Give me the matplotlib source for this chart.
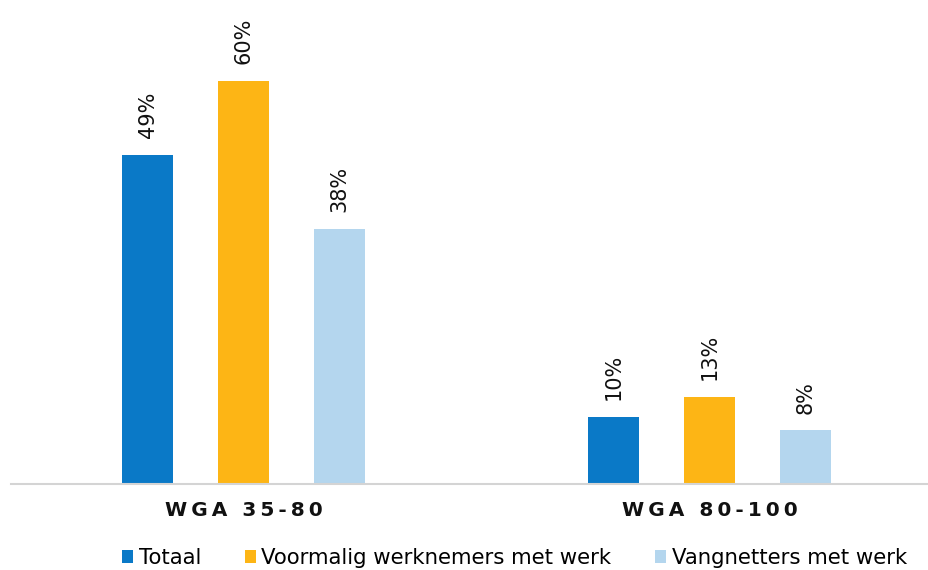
import matplotlib
matplotlib.use("Agg")
import matplotlib.pyplot as plt
import numpy as np

categories = ["WGA 35-80", "WGA 80-100"]
series_names = ["Totaal", "Voormalig werknemers met werk", "Vangnetters met werk"]
totaal = [49, 10]
voormalig = [60, 13]
vangnetters = [38, 8]
colors = ["#0a79c7", "#fdb515", "#b4d6ee"]

W, H = 929, 570
fig = plt.figure(figsize=(W / 100, H / 100), dpi=100)
ax = fig.add_axes([10.5 / W, 86 / H, 932 / W, 470 / H])

x = np.arange(len(categories))
offsets = [-0.206, 0.0, 0.206]
width = 0.1094
handles = []
for vals, off, col, name in zip([totaal, voormalig, vangnetters], offsets, colors, series_names):
    bars = ax.bar(x + off, vals, width=width, color=col, label=name, zorder=2)
    handles.append(bars)
    for xi, v in zip(x + off, vals):
        ax.annotate(f"{v}%", xy=(xi, v), xytext=(0, 12), textcoords="offset points",
                    rotation=90, ha="center", va="bottom", fontsize=15, color="#111111")

ax.set_xlim(-0.5, 1.5)
ax.set_ylim(0, 70)
for s in ["top", "right", "left"]:
    ax.spines[s].set_visible(False)
ax.spines["bottom"].set_color("#d4d4d4")
ax.spines["bottom"].set_linewidth(1.5)
ax.set_yticks([])
ax.set_xticks([])

# spaced-out bold category labels
thin = "\u2009"
for xi, cat in zip(x, categories):
    spaced = thin.join(list(cat))
    ax.annotate(spaced, xy=(xi, 0), xytext=(0, -27), textcoords="offset pixels",
                ha="center", va="center", fontsize=14.5, fontweight="bold", color="#111111")

fig.legend(handles=handles, labels=series_names, loc="center",
           bbox_to_anchor=(514.5 / W, 1 - 558 / H), ncol=3, frameon=False,
           fontsize=15.3, handlelength=0.53, handleheight=0.53, handletextpad=0.25,
           columnspacing=2.05, borderaxespad=0, borderpad=0)

fig.savefig("out.png", dpi=100)
